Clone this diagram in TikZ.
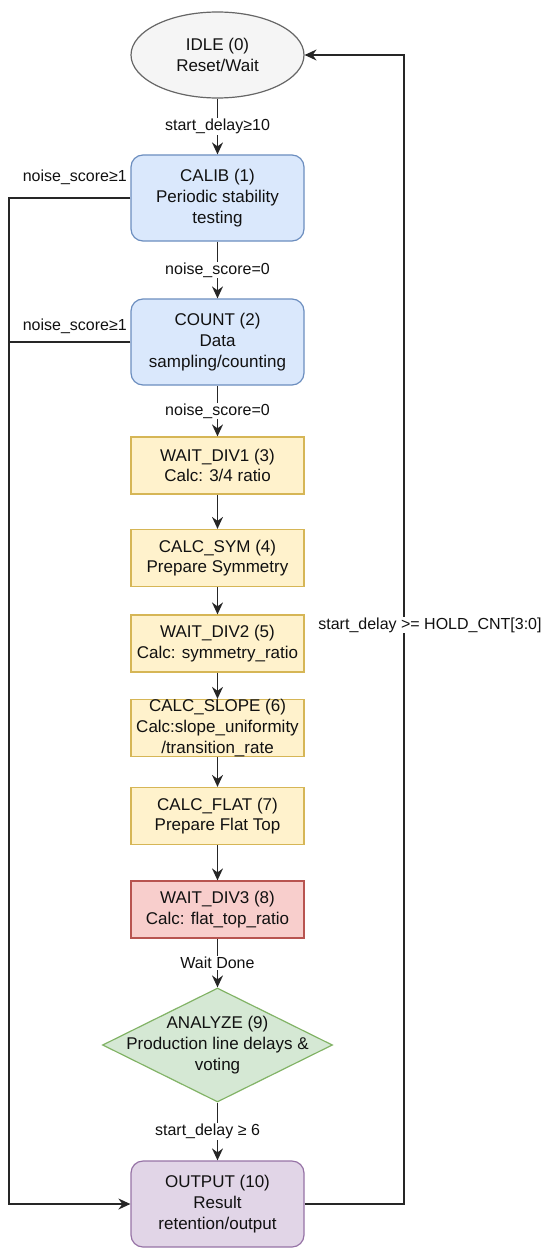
\documentclass[tikz,border=0pt]{standalone}
\usepackage{fontspec}
\setmainfont{Liberation Sans}
\usetikzlibrary{shapes.geometric,arrows.meta,calc}
\definecolor{bluefill}{HTML}{DAE8FC}\definecolor{bluedraw}{HTML}{6C8EBF}
\definecolor{yelfill}{HTML}{FFF2CC}\definecolor{yeldraw}{HTML}{D6B656}
\definecolor{redfill}{HTML}{F8CECC}\definecolor{reddraw}{HTML}{B85450}
\definecolor{grnfill}{HTML}{D5E8D4}\definecolor{grndraw}{HTML}{82B366}
\definecolor{purfill}{HTML}{E1D5E7}\definecolor{purdraw}{HTML}{9673A6}
\definecolor{gryfill}{HTML}{F5F5F5}\definecolor{grydraw}{HTML}{666666}
\definecolor{txt}{HTML}{111111}
\tikzset{
  base/.style={font=\fontsize{17}{20.7}\selectfont, align=center, inner sep=0pt, text=txt, line width=1.2pt},
  roundbox/.style={base, rounded corners=12pt, minimum width=173pt, minimum height=86pt},
  bluebox/.style={roundbox, fill=bluefill, draw=bluedraw},
  purbox/.style={roundbox, fill=purfill, draw=purdraw},
  sqbox/.style={base, minimum width=173pt, minimum height=57pt},
  yelbox/.style={sqbox, fill=yelfill, draw=yeldraw},
  redbox/.style={sqbox, fill=redfill, draw=reddraw},
  idlestyle/.style={base, ellipse, fill=gryfill, draw=grydraw, minimum width=173pt, minimum height=86pt},
  diam/.style={base, diamond, fill=grnfill, draw=grndraw, minimum width=230pt, minimum height=114pt},
  lbl/.style={font=\fontsize{16}{19}\selectfont, text=txt, fill=white, inner sep=1pt},
  conn/.style={line width=1.4pt, draw=black!85, -{Stealth[length=12pt,width=11pt,inset=4pt]}},
  plain/.style={line width=1.4pt, draw=black!85},
}
\begin{document}
\begin{tikzpicture}[x=1pt,y=-1pt]
\useasboundingbox (0,0) rectangle (550,1260);
\node[idlestyle] (idle) at (217.5,55) {IDLE (0)\\Reset/Wait};
\node[bluebox] (calib) at (217.5,198) {CALIB (1)\\Periodic stability\\testing};
\node[bluebox] (count) at (217.5,342) {COUNT (2)\\Data\\sampling/counting};
\node[yelbox] (w1) at (217.5,465.5) {WAIT\_DIV1 (3)\\Calc: 3/4 ratio};
\node[yelbox] (sym) at (217.5,558) {CALC\_SYM (4)\\Prepare Symmetry};
\node[yelbox] (w2) at (217.5,643.5) {WAIT\_DIV2 (5)\\Calc: symmetry\_ratio};
\node[yelbox] (slope) at (217.5,728) {CALC\_SLOPE (6)\\Calc:slope\_uniformity\\/transition\_rate};
\node[yelbox] (flat) at (217.5,816) {CALC\_FLAT (7)\\Prepare Flat Top};
\node[redbox] (w3) at (217.5,909.5) {WAIT\_DIV3 (8)\\Calc: flat\_top\_ratio};
\node[diam] (ana) at (217.5,1045) {};
\node[base] (anatext) at (ana.center) {ANALYZE (9)\\Production line delays \&\\voting};
\node[purbox] (out) at (217.5,1204) {OUTPUT (10)\\Result\\retention/output};

\coordinate (lx) at (9,0);
\coordinate (rx) at (404,0);

\draw[conn] (idle) -- node[lbl] {start\_delay≥10} (calib);
\draw[conn] (calib) -- node[lbl] {noise\_score=0} (count);
\draw[conn] (count) -- node[lbl] {noise\_score=0} (w1);
\draw[conn] (w1) -- (sym);
\draw[conn] (sym) -- (w2);
\draw[conn] (w2) -- (slope);
\draw[conn] (slope) -- (flat);
\draw[conn] (flat) -- (w3);
\draw[conn] (w3) -- node[lbl] {Wait Done} (ana);
\draw[conn] (ana) -- node[lbl, xshift=-10pt] {start\_delay ≥ 6} (out);

\draw[conn] (calib.west) -- (calib.west -| lx) -- (out.west -| lx) -- (out.west);
\draw[plain] (count.west) -- (count.west -| lx);
\node[lbl, fill=none, anchor=east] (n1) at (128,177) {noise\_score≥1};
\node[lbl, fill=none, anchor=east] (n2) at (128,326) {noise\_score≥1};

\draw[conn] (out.east) -- (out.east -| rx) -- (idle.east -| rx) -- (idle.east);
\node[lbl] (hold) at (430,625) {start\_delay >= HOLD\_CNT[3:0]};
\end{tikzpicture}
\end{document}
